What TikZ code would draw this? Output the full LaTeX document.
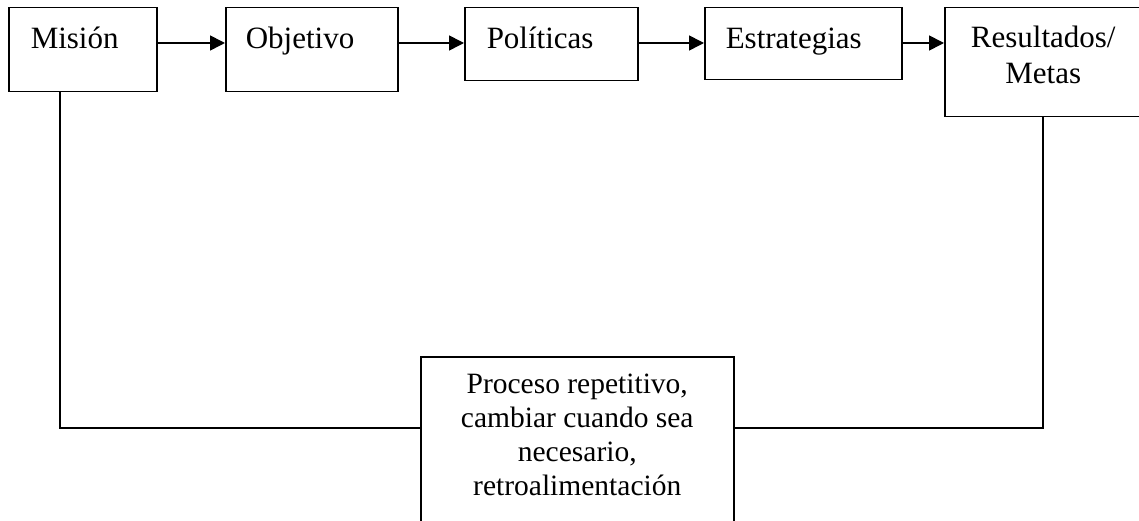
\documentclass[tikz,border=0pt]{standalone}
\usepackage{fontspec}
\setmainfont{Liberation Serif}
\usetikzlibrary{arrows.meta}
\tikzset{
  boxnode/.style={draw, line width=1.5pt, inner ysep=0pt, anchor=north west, align=left,
    font=\fontsize{31}{36}\selectfont},
  conn/.style={line width=1.6pt},
  arr/.style={conn, -{Triangle[length=15pt,width=15pt]}},
}
\begin{document}
\begin{tikzpicture}[x=1pt,y=-1pt]
\clip (0,0) rectangle (1139,521);
\fill[white] (0,0) rectangle (1139,521);
\node[boxnode, inner xsep=22pt, text width=104pt, text height=41pt, text depth=43pt] (mision) at (8,7) {Misión};
\node[boxnode, inner xsep=20pt, text width=132pt, text height=41pt, text depth=43pt] (objetivo) at (225,7) {Objetivo};
\node[boxnode, inner xsep=22pt, text width=129pt, text height=41pt, text depth=32pt] (politicas) at (464,7) {Políticas};
\node[boxnode, inner xsep=21pt, text width=155pt, text height=41pt, text depth=31pt] (estrategias) at (704,7) {Estrategias};
\node[boxnode, inner xsep=0pt, minimum width=197pt, text height=76pt, text depth=33pt] (res) at (944,7)
  {\begin{tabular}[b]{@{}c@{}}Resultados/\\Metas\end{tabular}};
\node[boxnode, inner xsep=0pt, minimum width=313pt, text height=139pt, text depth=60pt,
  font=\fontsize{29.5}{34}\selectfont] (fb) at (420,356)
  {\begin{tabular}[b]{@{}c@{}}Proceso repetitivo,\\cambiar cuando sea\\necesario,\\retroalimentación\end{tabular}};
\coordinate (arow) at (0,43);
\coordinate (lx) at (60,428);
\coordinate (rx) at (1043,428);
\draw[arr] (mision.east |- arow) -- (objetivo.west |- arow);
\draw[arr] (objetivo.east |- arow) -- (politicas.west |- arow);
\draw[arr] (politicas.east |- arow) -- (estrategias.west |- arow);
\draw[arr] (estrategias.east |- arow) -- (res.west |- arow);
\draw[conn] (mision.south -| lx) -- (lx) -- (fb.west |- lx);
\draw[conn] (res.south -| rx) -- (rx) -- (fb.east |- rx);
\end{tikzpicture}
\end{document}
